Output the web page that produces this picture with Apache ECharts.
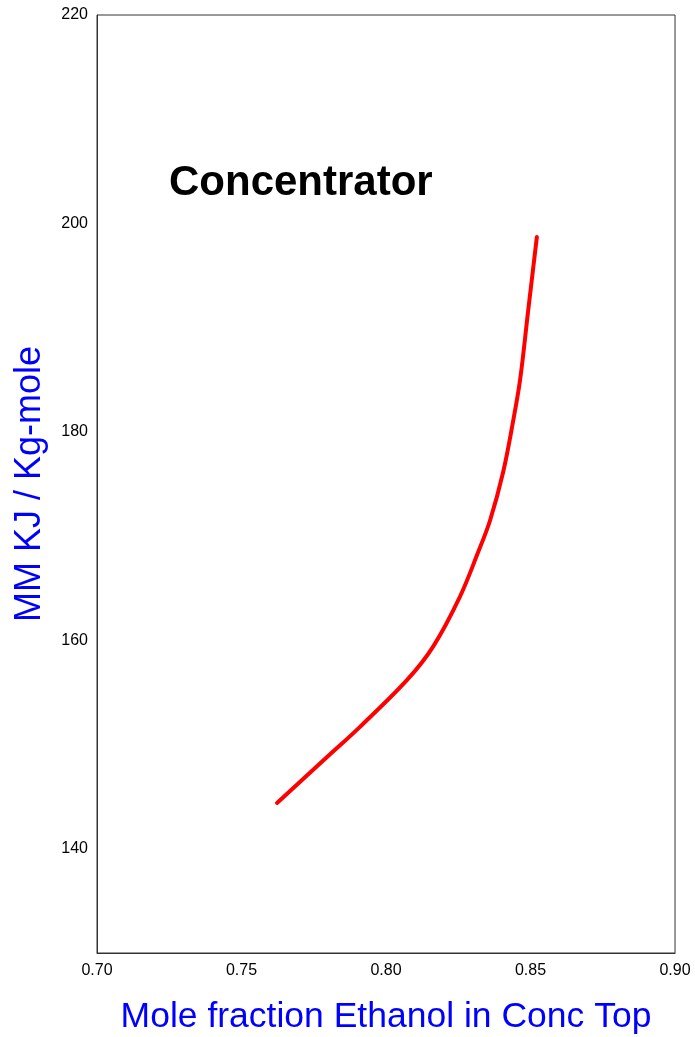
<!DOCTYPE html>
<html>
<head>
<meta charset="utf-8">
<title>Concentrator</title>
<script src="https://cdn.jsdelivr.net/npm/echarts@6/dist/echarts.min.js"></script>
<style>
  html, body { margin: 0; padding: 0; background: #ffffff; }
  #chart { width: 695px; height: 1037px; }
</style>
</head>
<body>
<div id="chart"></div>
<script>
// Mole fraction of ethanol at the concentrator top
const ethanolFraction = [0.7623, 0.7796, 0.7910, 0.8073, 0.8163, 0.8256, 0.8318, 0.8360, 0.8405, 0.8439, 0.8464, 0.8491, 0.8522];
// Energy demand, MM KJ / Kg-mole
const energyDemand = [144.4, 148.8, 151.7, 156.2, 159.4, 164.2, 168.4, 171.5, 176.1, 180.9, 185.0, 191.4, 198.7];

const xTicks = { min: 0.70, max: 0.90, step: 0.05 };
const yTicks = { min: 130, max: 220, step: 10, labelEvery: 20 };

const points = ethanolFraction.map((x, i) => [x, energyDemand[i]]);

const font = '"Liberation Sans", Arial, Helvetica, sans-serif';
const chart = echarts.init(document.getElementById('chart'), null, { renderer: 'canvas' });

chart.setOption({
  animation: false,
  backgroundColor: '#ffffff',
  grid: { left: 97, right: 20, top: 15, bottom: 84, containLabel: false,
          outerBoundsMode: 'none',
          show: true, borderColor: '#333333', borderWidth: 1 },
  title: {
    text: 'Concentrator',
    left: 164, top: 157,
    textStyle: { fontFamily: font, fontSize: 42, fontWeight: 'bold', color: '#000000' }
  },
  xAxis: {
    type: 'value',
    min: xTicks.min, max: xTicks.max, interval: xTicks.step,
    name: 'Mole fraction Ethanol in Conc Top',
    nameLocation: 'middle', nameGap: 46,
    nameTextStyle: { fontFamily: font, fontSize: 35.5, color: '#0000ff' },
    axisLine: { show: true, onZero: false, lineStyle: { color: '#333333', width: 1 } },
    axisTick: { show: false },
    splitLine: { show: false },
    axisLabel: { fontFamily: font, fontSize: 16, color: '#000000', margin: 10,
                 formatter: v => v.toFixed(2) }
  },
  yAxis: {
    type: 'value',
    min: yTicks.min, max: yTicks.max, interval: yTicks.step,
    name: 'MM KJ / Kg-mole',
    nameLocation: 'middle', nameGap: 49,
    nameTextStyle: { fontFamily: font, fontSize: 36, color: '#0000ff' },
    axisLine: { show: true, onZero: false, lineStyle: { color: '#333333', width: 1 } },
    axisTick: { show: false },
    splitLine: { show: false },
    axisLabel: { fontFamily: font, fontSize: 16, color: '#000000', margin: 9,
                 formatter: v => (Math.round(v) % yTicks.labelEvery === 0 ? String(Math.round(v)) : '') }
  },
  series: [{
    type: 'line',
    data: points,
    smooth: 0.35,
    showSymbol: false,
    lineStyle: { color: '#ff0000', width: 4, cap: 'round', join: 'round' }
  }]
});
</script>
</body>
</html>
